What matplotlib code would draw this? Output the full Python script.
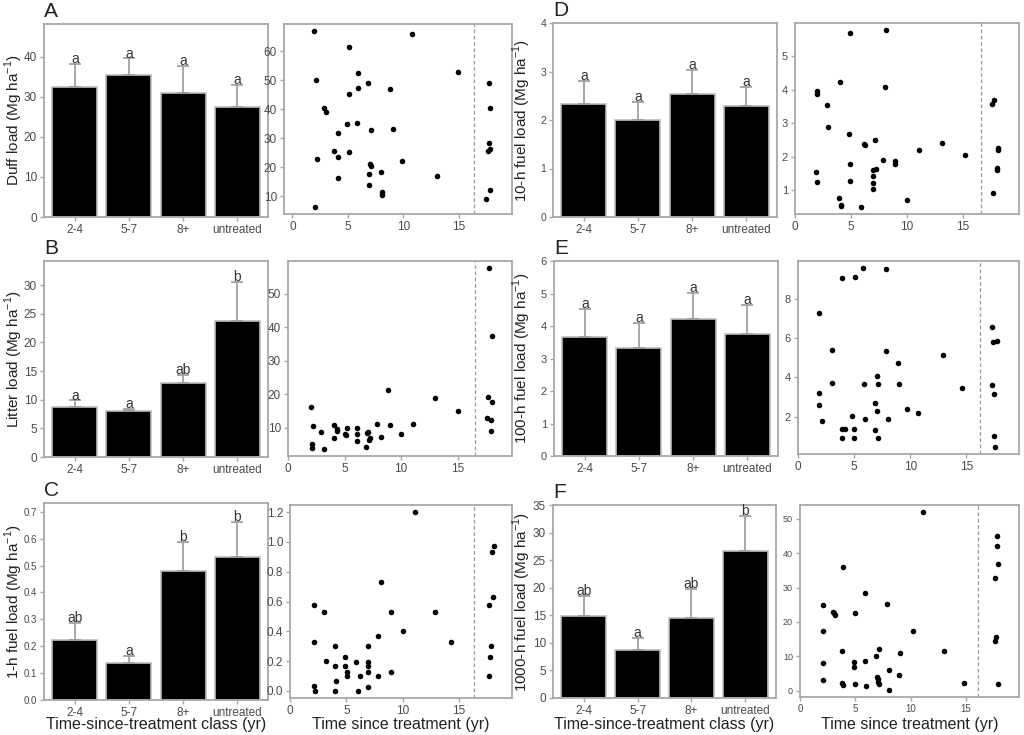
import matplotlib
matplotlib.use("Agg")
import matplotlib.pyplot as plt

plt.rcParams['font.family'] = ['Liberation Sans', 'DejaVu Sans']

# ---------------- data ----------------
classes = ['2-4', '5-7', '8+', 'untreated']

duff_mean = [32.5, 35.4, 31.0, 27.5]
duff_upper = [38.2, 39.6, 37.75, 32.9]
duff_letters = ['a', 'a', 'a', 'a']

litter_mean = [8.7, 7.95, 12.9, 23.8]
litter_upper = [9.87, 8.36, 14.3, 30.5]
litter_letters = ['a', 'a', 'ab', 'b']

h1_mean = [0.223, 0.139, 0.481, 0.533]
h1_upper = [0.288, 0.164, 0.589, 0.663]
h1_letters = ['ab', 'a', 'b', 'b']

h10_mean = [2.33, 2.01, 2.53, 2.29]
h10_upper = [2.81, 2.37, 3.03, 2.68]
h10_letters = ['a', 'a', 'a', 'a']

h100_mean = [3.66, 3.32, 4.23, 3.76]
h100_upper = [4.53, 4.09, 5.02, 4.66]
h100_letters = ['a', 'a', 'a', 'a']

h1000_mean = [14.9, 8.7, 14.5, 26.7]
h1000_upper = [18.5, 10.9, 19.7, 33.0]
h1000_letters = ['ab', 'a', 'ab', 'b']

# site scatter (time since treatment; untreated sites plotted right of the dashed line)
duff_x = [1.95, 2.1, 2.2, 2.0, 2.9, 3.0, 3.8, 4.1, 4.1, 4.1, 4.9, 5.1, 5.1, 5.1, 5.8, 5.9, 5.9,
          6.8, 7.0, 7.1, 7.1, 6.9, 6.9, 8.0, 8.1, 8.1, 8.8, 9.1, 9.9, 10.8, 13.0, 14.9,
          17.7, 17.8, 17.7, 17.8, 17.6, 17.8, 17.5]
duff_y = [66.9, 50.0, 22.8, 6.4, 40.5, 39.0, 25.8, 31.7, 23.5, 16.2, 35.1, 61.5, 45.1, 25.4, 35.2, 52.3, 47.4,
          49.2, 21.3, 20.6, 32.8, 17.7, 14.0, 18.3, 11.7, 10.5, 46.9, 33.2, 22.3, 66.0, 17.1, 52.9,
          49.2, 40.6, 28.3, 26.3, 25.7, 12.4, 9.2]

litter_x = [2.0, 2.2, 2.15, 2.15, 2.9, 3.2, 4.05, 4.05, 4.3, 4.3, 5.2, 5.0, 5.1, 6.06, 6.1, 6.1,
            6.9, 7.0, 7.1, 7.15, 7.25, 7.9, 8.2, 8.8, 9.0, 10.0, 11.06, 13.0, 15.0,
            17.8, 18.0, 17.7, 18.0, 17.6, 17.9, 17.9]
litter_y = [16.2, 10.7, 5.3, 4.1, 8.8, 3.8, 10.9, 7.0, 9.6, 9.1, 10.0, 8.3, 7.8, 10.0, 8.3, 6.0,
            4.3, 8.4, 8.9, 6.5, 7.0, 11.3, 7.2, 21.3, 10.8, 8.3, 11.3, 18.9, 15.0,
            57.6, 37.3, 19.2, 17.6, 13.0, 12.5, 9.0]

h1_x = [2.1, 2.1, 2.1, 2.2, 3.0, 3.2, 4.0, 4.0, 4.1, 4.0, 4.9, 4.9, 5.1, 5.1, 5.9, 6.0, 6.2,
        6.9, 6.9, 6.9, 6.9, 6.95, 7.85, 7.85, 8.1, 9.0, 9.0, 10.06, 11.1, 12.9, 14.3,
        18.06, 17.9, 17.97, 17.7, 17.8, 17.76, 17.7]
h1_y = [0.574, 0.331, 0.034, 0.0, 0.53, 0.199, 0.30, 0.168, 0.069, 0.0, 0.228, 0.168, 0.127, 0.098, 0.197, 0.0, 0.10,
        0.30, 0.197, 0.168, 0.127, 0.029, 0.366, 0.10, 0.731, 0.53, 0.127, 0.40, 1.2, 0.53, 0.331,
        0.972, 0.932, 0.632, 0.574, 0.30, 0.228, 0.10]

h10_x = [1.86, 2.0, 1.95, 2.0, 2.9, 2.94, 3.96, 4.1, 4.14, 4.05, 4.86, 4.95, 4.9, 4.95, 5.86, 6.16, 6.25,
         7.0, 7.0, 7.0, 6.97, 7.2, 7.15, 7.9, 8.1, 8.05, 8.9, 8.9, 10.0, 11.05, 13.15, 15.2,
         17.6, 17.8, 18.1, 18.1, 18.0, 18.05, 17.7]
h10_y = [1.54, 1.24, 3.97, 3.87, 3.53, 2.88, 0.77, 0.58, 0.55, 4.24, 2.67, 1.78, 1.29, 5.69, 0.51, 2.39, 2.34,
         1.60, 1.43, 1.21, 1.04, 1.63, 2.50, 1.91, 5.77, 4.07, 1.88, 1.79, 0.73, 2.20, 2.42, 2.04,
         3.57, 3.68, 2.27, 2.20, 1.67, 1.62, 0.93]

h100_x = [1.9, 1.9, 1.86, 2.16, 3.0, 3.05, 3.93, 3.93, 3.93, 4.2, 4.8, 4.97, 4.97, 5.1, 5.77, 5.9, 6.0,
          6.9, 6.86, 7.0, 7.04, 7.1, 7.16, 7.8, 7.8, 8.0, 8.9, 9.0, 9.7, 10.7, 12.9, 14.65,
          17.3, 17.4, 17.7, 17.3, 17.5, 17.5, 17.6]
h100_y = [7.28, 3.19, 2.61, 1.78, 5.41, 3.70, 9.07, 1.37, 0.93, 1.37, 2.03, 1.37, 0.93, 9.1, 9.55, 3.64, 1.86,
          2.68, 1.32, 4.08, 2.29, 3.64, 0.93, 5.32, 9.53, 1.86, 4.73, 3.64, 2.37, 2.2, 5.12, 3.45,
          6.55, 5.80, 5.83, 3.59, 3.14, 1.01, 0.47]

h1000_x = [2.07, 2.07, 2.07, 2.07, 2.95, 3.04, 3.2, 3.9, 3.8, 3.8, 3.9, 4.86, 4.86, 5.0, 5.0, 5.84, 5.87, 5.93,
           6.84, 7.14, 6.99, 7.05, 7.08, 7.14, 7.84, 8.05, 8.05, 8.97, 9.06, 10.2, 11.15, 13.0, 14.8,
           17.8, 17.8, 17.9, 17.6, 17.7, 17.6, 17.9]
h1000_y = [24.9, 17.4, 8.1, 3.1, 23.0, 22.5, 22.1, 35.9, 11.65, 2.1, 1.65, 8.25, 6.9, 22.7, 1.9, 28.4, 8.7, 1.4,
           10.1, 12.0, 4.1, 3.3, 2.6, 1.9, 25.3, 5.9, 0.2, 4.4, 11.0, 17.4, 52.0, 11.55, 2.3,
           44.9, 42.1, 36.8, 32.7, 15.7, 14.5, 1.9]

# ---------------- layout ----------------
W, H = 1024, 735
fig = plt.figure(figsize=(W / 100, H / 100), dpi=100)

def box(l, t, r, b):
    return [l / W, 1 - b / H, (r - l) / W, (b - t) / H]

SPINE = '#a8a8a8'
TICKTXT = '#4a4a4a'
unit = r' (Mg ha$^{\mathregular{-1}}$)'

panels = [
    # letter, ylabel, bar box, scatter box, bar data, bar ylim, bar ticks, tick size,
    # scatter data, scatter ticks, xlim, dashed x, tick size
    ('A', 'Duff load', (44, 24, 268, 217), (284, 24, 512, 214),
     duff_mean, duff_upper, duff_letters, 48.2, range(0, 41, 10), 8.5,
     duff_x, duff_y, range(10, 61, 10), (-0.75, 19.8), 16.35, 8.5),
    ('B', 'Litter load', (44, 261, 268, 457), (288, 261, 512, 456),
     litter_mean, litter_upper, litter_letters, 34.2, range(0, 31, 5), 8.5,
     litter_x, litter_y, range(10, 51, 10), (0, 19.8), 16.5, 8.5),
    ('C', '1-h fuel load', (44, 503, 268, 700), (290, 505, 512, 698),
     h1_mean, h1_upper, h1_letters, 0.733, [i / 10 for i in range(8)], 7,
     h1_x, h1_y, [i / 5 for i in range(7)], (0, 19.7), 16.36, 8.5),
    ('D', '10-h fuel load', (553, 23, 777, 217), (795, 23, 1019, 214),
     h10_mean, h10_upper, h10_letters, 4.0, range(0, 5), 7.5,
     h10_x, h10_y, range(1, 6), (0, 20.0), 16.6, 8),
    ('E', '100-h fuel load', (554, 261, 778, 456), (798, 261, 1019, 454),
     h100_mean, h100_upper, h100_letters, 6.0, range(0, 7), 8,
     h100_x, h100_y, range(2, 9, 2), (0, 19.7), 16.2, 8),
    ('F', '1000-h fuel load', (553, 505, 776, 698), (800, 505, 1019, 697),
     h1000_mean, h1000_upper, h1000_letters, 35.0, range(0, 36, 5), 8.5,
     h1000_x, h1000_y, range(0, 51, 10), (0, 19.8), 16.1, 6.5),
]

def style(ax, fs):
    for s in ax.spines.values():
        s.set_color(SPINE)
        s.set_linewidth(1.3)
    ax.tick_params(length=3, width=1, color=SPINE, labelcolor=TICKTXT, labelsize=fs, pad=2)

pos = [0.7 + 1.2 * i for i in range(len(classes))]

for (letter, ylab, bbox, sbox, mean, upper, letters, ytop, bticks, bfs,
     sx, sy, sticks, xlim, dash, sfs) in panels:
    # bar panel
    ax = fig.add_axes(box(*bbox))
    ax.bar(pos, mean, width=1, color='black', edgecolor='#bdbdbd', linewidth=1.2, zorder=2)
    ax.errorbar(pos, mean, yerr=[[0] * len(mean), [u - m for u, m in zip(upper, mean)]],
                fmt='none', ecolor='#9a9a9a', elinewidth=1.2, capsize=4, capthick=1.2, zorder=3)
    for p, u, l in zip(pos, upper, letters):
        ax.annotate(l, (p, u), xytext=(0, -1.5), textcoords='offset points',
                    ha='center', va='bottom', fontsize=10, color='#333333')
    ax.set_xlim(0.016, 4.984)
    ax.set_ylim(0, ytop)
    ax.set_xticks(pos, classes)
    ax.set_yticks(list(bticks))
    style(ax, bfs)
    ax.tick_params(axis='x', labelsize=8.5)

    l, t, r, b = bbox
    fig.text(l / W, 1 - (t - 3) / H, letter, fontsize=15, ha='left', va='bottom', color='#222222')
    xl = 14 if l < 300 else 522
    fig.text(xl / W, 1 - (t + b) / 2 / H, ylab + unit, rotation=90, fontsize=11,
             ha='center', va='center', color='#222222')

    # scatter panel
    ax2 = fig.add_axes(box(*sbox))
    ax2.scatter(sx, sy, s=16, color='black', linewidths=0, zorder=3)
    ax2.axvline(dash, color='#9a9a9a', lw=0.9, ls=(0, (3, 2)))
    ax2.margins(y=0.04)
    ax2.set_xlim(*xlim)
    ax2.set_xticks([0, 5, 10, 15])
    ax2.set_yticks(list(sticks))
    style(ax2, sfs)
    ax2.tick_params(axis='x', labelsize=min(8.5, sfs + 0.5))

    if letter in ('C', 'F'):
        fig.text((bbox[0] + bbox[2]) / 2 / W, 1 - 725 / H, 'Time-since-treatment class (yr)',
                 fontsize=11.5, ha='center', va='center', color='#222222')
        fig.text((sbox[0] + sbox[2]) / 2 / W, 1 - 725 / H, 'Time since treatment (yr)',
                 fontsize=11.5, ha='center', va='center', color='#222222')

fig.savefig('out.png', dpi=100)
